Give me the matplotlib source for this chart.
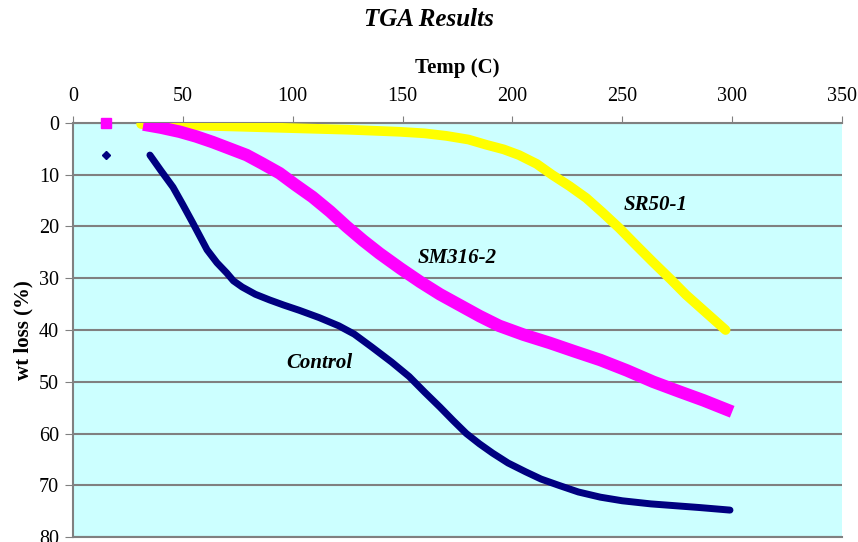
import matplotlib
matplotlib.use("Agg")
import matplotlib.pyplot as plt

# Control (navy)
control_x = [35, 40, 45.5, 50, 54.5, 61, 65.5, 70, 73, 77, 83, 89.5, 96, 103, 112, 121, 128, 136, 145, 153,
             160, 167, 173, 179, 185, 191, 198, 206, 213, 221, 230, 240, 250, 263, 285, 299]
control_y = [6.2, 9.2, 12.4, 15.8, 19.3, 24.5, 27, 29, 30.5, 31.7, 33.1, 34.2, 35.2, 36.2, 37.6, 39.2, 40.8, 43.3,
             46.2, 49, 52, 54.9, 57.5, 60, 62, 63.8, 65.7, 67.4, 68.8, 70, 71.3, 72.3, 73, 73.6, 74.3, 74.8]
control_pt = (15, 6.2)

# SM316-2 (magenta)
sm_x = [32, 40, 48.6, 56, 63.6, 71, 79, 86, 94, 101, 109, 117, 124.5, 132, 139.5, 149, 158, 167, 176, 185,
        194, 205, 217, 228, 240, 252, 264, 276, 287, 300]
sm_y = [0.3, 0.9, 1.7, 2.6, 3.7, 4.9, 6.2, 7.8, 9.7, 11.9, 14.3, 17.1, 20, 22.7, 25.2, 28.1, 30.7, 33.1, 35.2, 37.3,
        39.2, 40.9, 42.5, 44.1, 45.8, 47.8, 50, 51.9, 53.6, 55.8]
sm_pt = (15, 0)

# SR50-1 (yellow)
sr_x = [31, 48.6, 75, 100, 125, 148.6, 160, 170, 180, 188, 196, 203, 211, 218, 226, 233.6, 241, 248.6, 256,
        264, 272, 279, 288, 297]
sr_y = [0.2, 0.4, 0.7, 1.0, 1.3, 1.7, 2.0, 2.5, 3.2, 4.2, 5.1, 6.2, 7.9, 10, 12.2, 14.5, 17.3, 20.3, 23.5,
        26.9, 30.2, 33.2, 36.6, 40]

labels = {"SR50-1": (265, 15.8), "SM316-2": (175, 26), "Control": (112, 46.4)}

serif = "Liberation Serif"
fig = plt.figure(figsize=(8.58, 5.42), dpi=100)
ax = fig.add_axes([0.0851, 0.0092, 0.8963, 0.7639])
ax.set_facecolor("#CCFFFF")

ax.plot(sr_x, sr_y, color="#FFFF00", lw=7, solid_capstyle="round", solid_joinstyle="round", zorder=3)
ax.plot(sm_x, sm_y, color="#FF00FF", lw=9, solid_capstyle="butt", solid_joinstyle="round", zorder=4)
ax.plot(control_x, control_y, color="#000080", lw=5, solid_capstyle="round", solid_joinstyle="round", zorder=5)
ax.plot([sm_pt[0]], [sm_pt[1]], marker="s", ms=7, color="#FF00FF", ls="none", zorder=6, clip_on=False)
ax.plot([control_pt[0]], [control_pt[1]], marker="D", ms=4, color="#000080", ls="none", zorder=6)

for txt, (x, y) in labels.items():
    ax.text(x, y, txt, fontfamily=serif, fontsize=15, fontweight="bold", fontstyle="italic",
            ha="center", va="center", zorder=7)

ax.set_xlim(0, 350)
ax.set_ylim(80, 0)
ax.set_xticks(range(0, 351, 50))
ax.set_yticks(range(0, 81, 10))
ax.xaxis.tick_top()
ax.xaxis.set_label_position("top")
ax.tick_params(axis="x", direction="out", length=5, color="#808080", labelsize=14.5, pad=7)
ax.tick_params(axis="y", direction="out", length=6, color="#808080", labelsize=14.5, pad=4)
for lab in ax.get_xticklabels() + ax.get_yticklabels():
    lab.set_fontfamily(serif)

ax.yaxis.grid(True, color="#808080", lw=1.5)
ax.set_axisbelow(True)
for s in ["top", "left", "bottom"]:
    ax.spines[s].set_color("#808080")
    ax.spines[s].set_linewidth(1.5)
ax.spines["right"].set_visible(False)

ax.set_xlabel("Temp (C)", fontfamily=serif, fontsize=15, fontweight="bold", labelpad=10)
ax.set_ylabel("wt loss (%)", fontfamily=serif, fontsize=15, fontweight="bold", labelpad=4)
fig.text(0.5, 1 - 20 / 542, "TGA Results", fontfamily=serif, fontsize=18, fontweight="bold",
         fontstyle="italic", ha="center", va="center")

fig.savefig("out.png", dpi=100)
